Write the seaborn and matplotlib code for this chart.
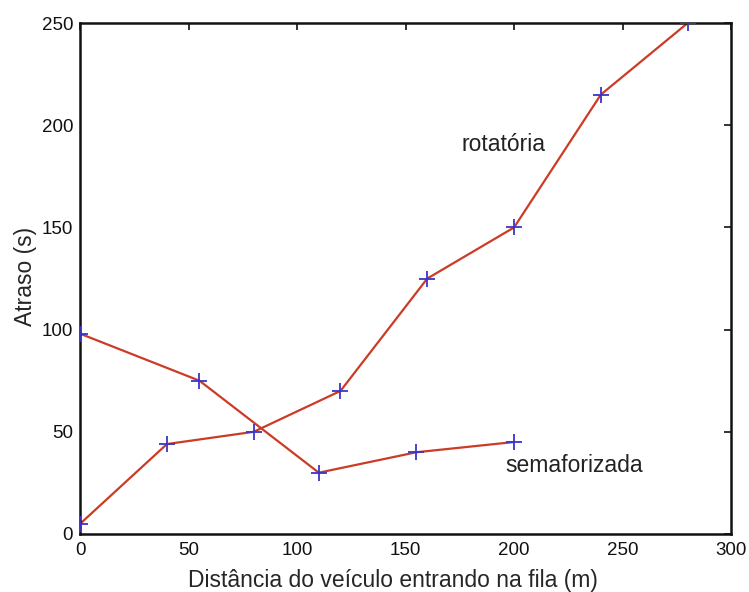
import matplotlib
matplotlib.use("Agg")
import matplotlib.pyplot as plt
import seaborn as sns
import pandas as pd

# Delay vs. distance of the vehicle entering the queue
rot_dist = [0, 40, 80, 120, 160, 200, 240, 280]
rot_delay = [5, 44, 50, 70, 125, 150, 215, 250]
sem_dist = [0, 55, 110, 155, 200]
sem_delay = [98, 75, 30, 40, 45]

x_ticks = [0, 50, 100, 150, 200, 250, 300]
y_ticks = [0, 50, 100, 150, 200, 250]

sns.set_theme(style="white")
plt.rcParams["font.family"] = ["Liberation Sans", "DejaVu Sans"]

fig = plt.figure(figsize=(7.49, 5.92), dpi=100)
ax = fig.add_axes([0.107, 0.098, 0.869, 0.863])

line_color = "#cc3b26"
mark_color = "#3a35c8"

for xs, ys in [(rot_dist, rot_delay), (sem_dist, sem_delay)]:
    df = pd.DataFrame({"x": xs, "y": ys})
    sns.lineplot(data=df, x="x", y="y", ax=ax, color=line_color,
                 linewidth=1.6, sort=False)
    sns.scatterplot(data=df, x="x", y="y", ax=ax, marker="+", s=120,
                    color=mark_color, linewidth=1.3, zorder=3)

ax.text(176, 190.5, "rotatória", fontsize=16.5, va="center", ha="left", color="#222222")
ax.text(196, 33.5, "semaforizada", fontsize=16.5, va="center", ha="left", color="#222222")

ax.set_xlim(0, 300)
ax.set_ylim(0, 250)
ax.set_xticks(x_ticks)
ax.set_yticks(y_ticks)
ax.tick_params(axis="both", direction="in", length=5, width=1.2,
               top=True, right=True, labelsize=13.5, colors="#111111")
ax.tick_params(axis="x", pad=6)
ax.tick_params(axis="y", pad=5)
for s in ax.spines.values():
    s.set_color("#111111")
    s.set_linewidth(1.8)

ax.set_xlabel("Distância do veículo entrando na fila (m)", fontsize=16.5)
ax.set_ylabel("Atraso (s)", fontsize=16.5)
ax.xaxis.set_label_coords(0.48, -0.068)
ax.yaxis.set_label_coords(-0.067, 0.505)

fig.savefig("out.png", dpi=100, facecolor="white")
